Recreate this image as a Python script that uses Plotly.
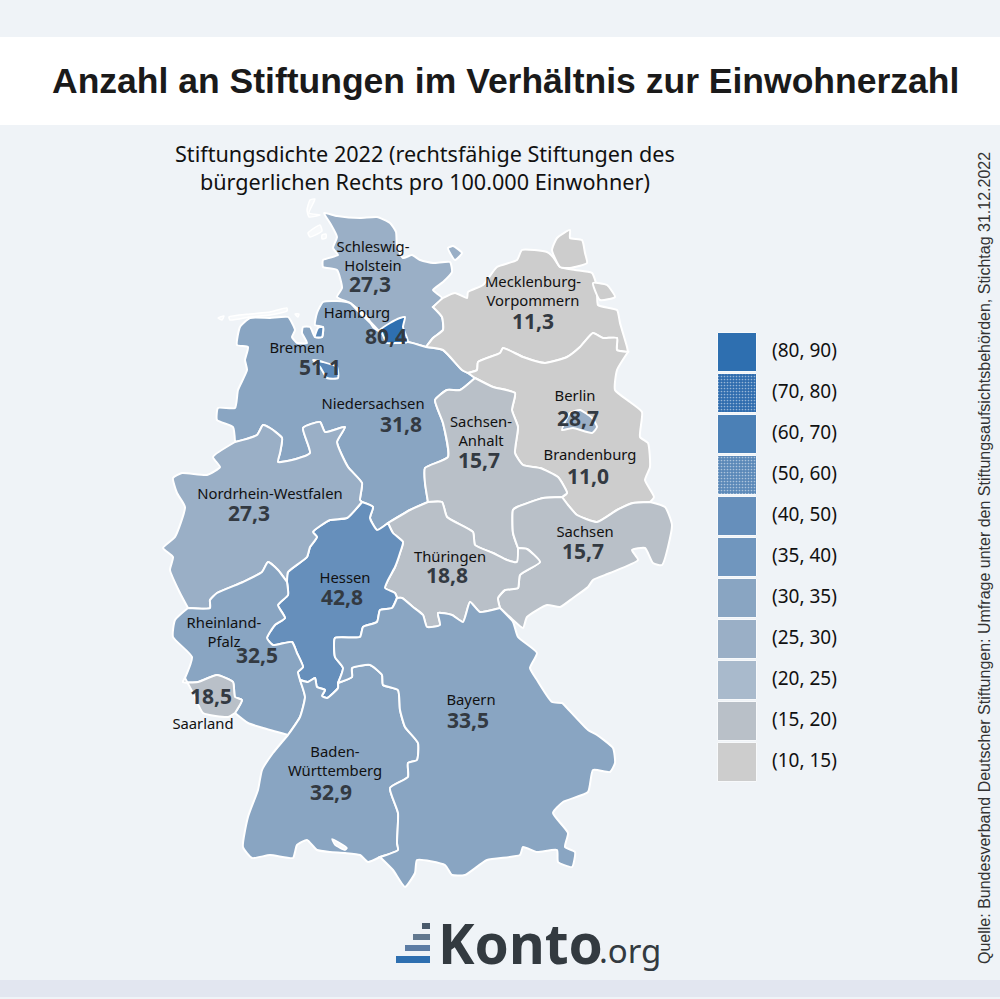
import plotly.graph_objects as go

TITLE = "Anzahl an Stiftungen im Verhältnis zur Einwohnerzahl"
SUBTITLE = "Stiftungsdichte 2022 (rechtsfähige Stiftungen des<br>bürgerlichen Rechts pro 100.000 Einwohner)"
SOURCE = "Quelle: Bundesverband Deutscher Stiftungen: Umfrage unter den Stiftungsaufsichtsbehörden, Stichtag 31.12.2022"

states = ["Schleswig-Holstein", "Hamburg", "Bremen", "Niedersachsen", "Mecklenburg-Vorpommern", "Berlin",
          "Brandenburg", "Sachsen-Anhalt", "Sachsen", "Thüringen", "Hessen", "Nordrhein-Westfalen",
          "Rheinland-Pfalz", "Saarland", "Baden-Württemberg", "Bayern"]
values = [27.3, 80.4, 51.1, 31.8, 11.3, 28.7, 11.0, 15.7, 15.7, 18.8, 42.8, 27.3, 32.5, 18.5, 32.9, 33.5]
value_text = ["27,3", "80,4", "51,1", "31,8", "11,3", "28,7", "11,0", "15,7", "15,7", "18,8", "42,8", "27,3", "32,5", "18,5", "32,9", "33,5"]
name_text = ["Schleswig-<br>Holstein", "Hamburg", "Bremen", "Niedersachsen", "Mecklenburg-<br>Vorpommern", "Berlin",
             "Brandenburg", "Sachsen-<br>Anhalt", "Sachsen", "Thüringen", "Hessen", "Nordrhein-Westfalen",
             "Rheinland-<br>Pfalz", "Saarland", "Baden-<br>Württemberg", "Bayern"]
name_x = [373, 357, 297, 373, 533, 575, 590, 481, 585, 450, 345, 270, 224, 203, 335, 471]
name_y = [258, 314, 349, 405, 293, 397, 456, 433, 533, 558, 579, 495, 634, 725, 763, 701]
value_x = [370, 386, 320, 401, 533, 578, 588, 479, 583, 447, 342, 249, 257, 211, 331, 468]
value_y = [287, 339, 370, 427, 324, 421, 479, 463, 554, 578, 600, 516, 658, 699, 795, 723]

legend_low = [80, 70, 60, 50, 40, 35, 30, 25, 20, 15, 10]
legend_high = [90, 80, 70, 60, 50, 40, 35, 30, 25, 20, 15]
legend_labels = ["(80, 90)", "(70, 80)", "(60, 70)", "(50, 60)", "(40, 50)", "(35, 40)", "(30, 35)", "(25, 30)", "(20, 25)", "(15, 20)", "(10, 15)"]
legend_colors = ["#2e6fb0", "#2f6cae", "#4b80b6", "#5a88b8", "#668fbb", "#7096be", "#89a5c2", "#9aafc6", "#a9bacc", "#b9c0c8", "#cdcdcd"]
legend_tops = [333, 374, 415, 456, 497, 538, 579, 620, 661, 702, 743]

SH_OUT = [(380,332),(373,327),(367,317),(350,303),(337,297),(342,288),(337,270),(323,267),(323,260),(338,255),(333,248),(337,237),(330,223),(324,213),(337,216),(360,218),(377,217),(390,223),(396,232),(397,247),(403,258),(412,255),(420,260),(433,263),(450,262),(452,272),(443,282),(433,290),(442,298),(433,307)]
ELBE = [(380,332),(373,327),(367,317),(350,303)]
SH_MV = [(433,307),(442,317),(443,330),(433,338),(426,347)]
SH_S = [(426,347),(408,342),(395,343),(380,332)]
MV_COAST = [(433,307),(443,298),(455,293),(467,298),(468,292),(483,285),(497,267),(517,260),(522,250),(547,252),(553,257),(560,267),(575,270),(592,273),(597,287),(598,305),(617,310),(620,323),(627,347),(628,352)]
MV_BB = [(628,352),(617,350),(617,338),(603,338),(593,333),(580,347),(567,357),(545,363),(523,357),(503,348),(500,353),(478,362),(477,370),(468,373)]
MV_NI = [(468,373),(462,370),(443,350),(426,347)]
NI_BB = [(468,373),(475,378)]
NI_SA = [(475,378),(460,390),(447,390),(435,400),(443,423),(448,457),(425,468),(425,483),(428,502)]
NI_TH = [(428,502),(410,510),(388,523)]
NI_HE = [(388,523),(377,530),(370,518),(373,507),(362,502)]
NI_COAST = [(350,303),(337,301),(323,302),(317,313),(315,325),(323,327),(322,337),(315,337),(310,327),(303,327),(302,333),(307,343),(297,343),(292,337),(295,330),(288,317),(270,318),(250,318),(240,327),(237,345),(248,347),(245,360),(247,370),(238,390),(235,408),(218,408),(217,420),(233,427),(235,442)]
NI_NW = [(235,442),(257,435),(263,425),(270,428),(282,438),(280,453),(278,462),(292,460),(310,453),(303,428),(320,422),(325,432),(345,427),(337,442),(348,467),(362,483),(360,500),(362,502)]
NW_HE = [(287,582),(288,572),(307,557),(310,547),(317,537),(313,532),(330,520),(347,518),(362,502)]
NW_RP = [(287,582),(278,570),(268,562),(262,572),(243,582),(217,593),(210,600),(210,608),(188,608)]
NW_W = [(188,608),(180,593),(170,570),(173,557),(163,548),(175,537),(185,507),(177,493),(173,478),(182,473),(207,475),(220,467),(213,457),(235,442)]
RP_W = [(188,608),(175,620),(173,637),(192,657),(185,678)]
RP_SL = [(185,678),(183,682),(198,682),(217,675),(233,682),(235,697),(242,700),(235,713)]
SL_S = [(235,713),(228,717),(203,713),(193,693),(185,678)]
RP_S = [(235,713),(248,723),(263,728),(288,735)]
RP_BW = [(288,735),(300,717),(305,697),(300,680)]
HE_RP = [(287,582),(288,595),(278,605),(285,618),(275,625),(267,638),(273,645),(292,642),(297,653),(303,667),(298,672),(300,680)]
HE_BW = [(300,680),(308,682),(315,678),(317,687),(325,690),(322,696),(327,698),(338,688),(338,683)]
HE_BY = [(397,598),(392,608),(380,610),(377,622),(363,627),(360,637),(335,638),(335,657),(343,668),(338,683)]
HE_TH = [(388,523),(393,533),(403,542),(400,553),(395,567),(388,580),(385,588),(395,593),(397,598)]
TH_SA = [(428,502),(442,502),(447,517),(473,532),(475,545),(493,553),(507,560),(517,562),(518,548)]
TH_SN = [(518,548),(527,549),(540,562),(520,575),(518,588),(505,590),(498,598),(500,608)]
TH_BY = [(500,608),(480,612),(470,602),(463,622),(452,615),(438,613),(440,625),(427,627),(423,615),(413,607),(402,598),(397,598)]
SA_SN = [(518,548),(513,533),(513,510),(517,507),(543,498),(562,497)]
BB_SA = [(475,378),(493,387),(515,393),(512,410),(518,427),(515,453),(523,465),(540,468),(558,477),(567,493),(562,497)]
BB_SN = [(650,502),(633,503),(617,510),(597,522),(577,515),(568,505),(562,497)]
BB_OUT = [(628,352),(617,370),(615,390),(630,402),(642,412),(640,437),(648,443),(650,467),(645,480),(654,497),(650,502)]
SN_S = [(500,608),(513,620),(523,628),(527,617),(547,605),(560,607),(573,598),(588,587),(593,580),(610,573),(638,560),(632,550),(645,548),(653,563),(662,565),(672,525),(665,507),(650,502)]
BW_BY = [(338,683),(352,677),(352,668),(370,665),(382,675),(383,685),(398,690),(400,710),(405,727),(418,743),(417,760),(408,763),(408,777),(390,788),(398,813),(397,843),(398,850),(380,857)]
BW_S = [(380,857),(368,862),(360,855),(345,853),(330,852),(317,850),(313,846),(307,840),(297,845),(295,852),(293,858),(270,855),(252,858),(243,847),(248,817),(258,790),(262,770),(273,753),(288,735)]
BY_OUT = [(380,857),(393,870),(405,887),(415,873),(417,860),(445,865),(452,875),(465,875),(487,860),(520,855),(523,847),(537,852),(557,850),(558,862),(572,867),(575,852),(565,847),(568,833),(553,813),(563,802),(588,792),(593,770),(610,772),(615,763),(613,748),(597,735),(588,730),(567,708),(562,703),(552,702),(537,680),(530,668),(537,653),(518,637),(513,622),(500,608)]
HAMBURG = [(380,330),(390,323),(400,318),(405,317),(403,327),(408,342),(397,343),(387,343),(382,333)]
BREMEN = [(313,360),(323,362),(337,367),(338,378),(327,378),(320,367)]
BREMERHAVEN = [(318,328),(323,327),(322,337),(315,337)]
BERLIN = [(570,413),(580,410),(592,418),(597,427),(592,433),(573,428),(562,430),(565,422)]
RUEGEN = [(552,250),(557,238),(570,230),(570,238),(582,240),(585,253),(587,263),(570,268),(560,267)]
USEDOM = [(593,283),(607,285),(615,297),(600,300)]
FEHMARN = [(448,248),(453,246),(462,253),(455,260),(450,253)]
SYLT = [(310,200),(315,199),(309,213),(320,215),(309,217),(307,210)]
FOEHR = [(308,233),(320,225),(322,231),(310,237)]
AMRUM = [(322,235),(326,234),(326,238),(322,239)]
FRISIAN_A = [(218,318),(224,316),(222,320)]
FRISIAN_B = [(229,317),(250,314),(270,312),(287,308),(287,311),(270,315),(250,317),(230,320)]
FRISIAN_C = [(295,314),(299,314),(298,317)]
BODENSEE = [(332,839),(338,842),(347,848),(345,850),(335,845)]

def r(seg):
    return seg[::-1]

def chain(*segs):
    out = []
    for s in segs:
        out.extend(s)
    return out + [segs[0][0]]

outline = {
    "Schleswig-Holstein": chain(SH_OUT, SH_MV, SH_S),
    "Niedersachsen": chain(SH_S, r(ELBE), NI_COAST, NI_NW, r(NI_HE), r(NI_TH), r(NI_SA), r(NI_BB), MV_NI),
    "Mecklenburg-Vorpommern": chain(MV_COAST, MV_BB, MV_NI, r(SH_MV)),
    "Brandenburg": chain(BB_OUT, BB_SN, r(BB_SA), r(NI_BB), r(MV_BB)),
    "Sachsen-Anhalt": chain(NI_SA, TH_SA, SA_SN, r(BB_SA)),
    "Sachsen": chain(r(SA_SN), TH_SN, SN_S, BB_SN),
    "Thüringen": chain(r(NI_TH), TH_SA, TH_SN, TH_BY, r(HE_TH)),
    "Hessen": chain(NI_HE, r(NW_HE), HE_RP, HE_BW, r(HE_BY), r(HE_TH)),
    "Nordrhein-Westfalen": chain(NI_NW, r(NW_HE), NW_RP, NW_W),
    "Rheinland-Pfalz": chain(NW_RP, RP_W, RP_SL, RP_S, RP_BW, r(HE_RP)),
    "Saarland": chain(RP_SL, SL_S),
    "Baden-Württemberg": chain(HE_BW, BW_BY, BW_S, RP_BW),
    "Bayern": chain(TH_BY, HE_BY, BW_BY, BY_OUT),
    "Hamburg": chain(HAMBURG),
    "Bremen": chain(BREMEN),
    "Berlin": chain(BERLIN),
}
islands = {
    "Mecklenburg-Vorpommern": [RUEGEN, USEDOM],
    "Schleswig-Holstein": [FEHMARN],
    "Bremen": [BREMERHAVEN],
}
pale_islands = [SYLT, FOEHR, AMRUM, FRISIAN_A, FRISIAN_B, FRISIAN_C, BODENSEE]
draw_order = ["Schleswig-Holstein", "Niedersachsen", "Mecklenburg-Vorpommern", "Brandenburg", "Sachsen-Anhalt", "Sachsen",
              "Thüringen", "Hessen", "Nordrhein-Westfalen", "Rheinland-Pfalz", "Saarland", "Baden-Württemberg", "Bayern",
              "Hamburg", "Bremen", "Berlin"]

def colour_for(v):
    for lo, hi, c in zip(legend_low, legend_high, legend_colors):
        if lo <= v < hi:
            return c
    return legend_colors[-1]

fig = go.Figure()
BG = "#eff3f7"

def add_poly(poly, col, width=2, smooth=0.5):
    fig.add_trace(go.Scatter(x=[p[0] for p in poly], y=[p[1] for p in poly], mode="lines", fill="toself",
                             fillcolor=col, line=dict(color="white", width=width, shape="spline", smoothing=smooth),
                             hoverinfo="skip", showlegend=False))

for name in draw_order:
    col = colour_for(values[states.index(name)])
    for poly in [outline[name]] + [p + [p[0]] for p in islands.get(name, [])]:
        add_poly(poly, col)
for p in pale_islands:
    add_poly(p + [p[0]], "#f7f9fb", width=1.5)

LABEL_FONT = "Noto Sans"
fig.add_trace(go.Scatter(x=name_x, y=name_y, mode="text", text=name_text, textposition="middle center",
                         textfont=dict(family=LABEL_FONT, size=14.8, color="#111111"), hoverinfo="skip", showlegend=False))
fig.add_trace(go.Scatter(x=value_x, y=value_y, mode="text", text=["<b>%s</b>" % t for t in value_text], textposition="middle center",
                         textfont=dict(family=LABEL_FONT, size=21, color="#333a42"), hoverinfo="skip", showlegend=False))

pattern_shape = ["", ".", "", ".", "", "", "", "", "", "", ""]
pattern_fg = ["#2e6fb0", "#4f86bd", "#4b80b6", "#6a92bd", "#668fbb", "#7096be", "#89a5c2", "#9aafc6", "#a9bacc", "#b9c0c8", "#cdcdcd"]
fig.add_trace(go.Bar(x=[737.5] * len(legend_labels), y=[39] * len(legend_labels), base=legend_tops, width=39,
                     marker=dict(color=legend_colors, line=dict(color="#f7f9fb", width=1),
                                 pattern=dict(shape=pattern_shape, fgcolor=pattern_fg, size=3, solidity=0.25)),
                     hoverinfo="skip", showlegend=False))
fig.add_trace(go.Scatter(x=[772] * len(legend_labels), y=[t + 19 for t in legend_tops], mode="text", text=legend_labels,
                         textposition="middle right", textfont=dict(family=LABEL_FONT, size=19, color="#111111"),
                         hoverinfo="skip", showlegend=False))

shapes = [
    dict(type="rect", xref="x", yref="y", x0=0, x1=1000, y0=37, y1=125, fillcolor="white", line_width=0, layer="below"),
    dict(type="rect", xref="x", yref="y", x0=0, x1=1000, y0=980, y1=997, fillcolor="#e2e6f0", line_width=0, layer="below"),
    dict(type="rect", xref="x", yref="y", x0=422, x1=430, y0=923, y1=929, fillcolor="#4a5a6c", line_width=0),
    dict(type="rect", xref="x", yref="y", x0=413, x1=430, y0=934, y1=940, fillcolor="#62788f", line_width=0),
    dict(type="rect", xref="x", yref="y", x0=405, x1=430, y0=945, y1=951, fillcolor="#5c7ca4", line_width=0),
    dict(type="rect", xref="x", yref="y", x0=396, x1=430, y0=956, y1=963, fillcolor="#2e6fb0", line_width=0),
]

def ann(x, y, text, size, family, color="#111111", xanchor="center", angle=0, bold=False):
    return dict(x=x, y=y, xref="x", yref="y", text=("<b>%s</b>" % text) if bold else text, showarrow=False, xanchor=xanchor,
                yanchor="middle", textangle=angle, font=dict(family=family, size=size, color=color))

annotations = [
    ann(505, 81, TITLE, 35.5, "Liberation Sans", "#1a1a1a", bold=True),
    ann(425, 167, SUBTITLE, 21.6, LABEL_FONT),
    ann(984, 558, SOURCE, 16, "Liberation Sans", "#333333", angle=-90),
    ann(436, 942, "Konto", 55, "Noto Sans", "#333a40", xanchor="left", bold=True),
    ann(597, 950, ".org", 33, "Noto Sans", "#333a40", xanchor="left"),
]

fig.update_layout(width=1000, height=999, margin=dict(l=0, r=0, t=0, b=0), paper_bgcolor=BG, plot_bgcolor=BG,
                  shapes=shapes, annotations=annotations, showlegend=False, bargap=0,
                  xaxis=dict(range=[0, 1000], visible=False, fixedrange=True),
                  yaxis=dict(range=[999, 0], visible=False, fixedrange=True))
fig.write_html("out.html", config=dict(displayModeBar=False),
               post_script="document.body.style.margin='0';document.body.style.overflow='hidden';")
